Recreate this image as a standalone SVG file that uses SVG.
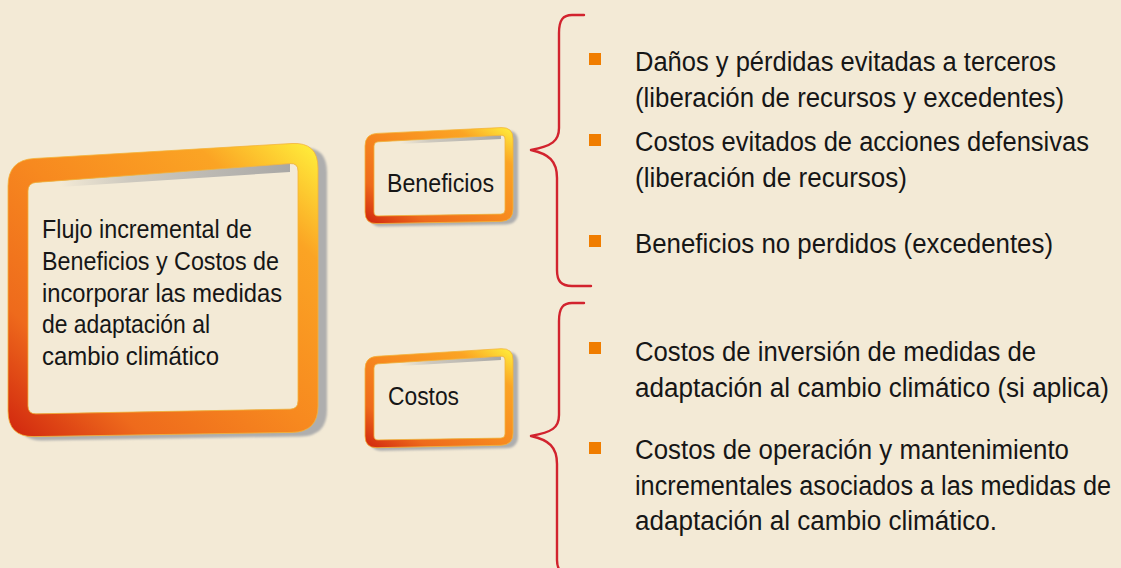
<svg xmlns="http://www.w3.org/2000/svg" width="1121" height="568" viewBox="0 0 1121 568">
  <defs>
    <linearGradient id="frameGrad" x1="0" y1="1" x2="1" y2="0">
      <stop offset="0" stop-color="#d0240e"/>
      <stop offset="0.22" stop-color="#ee6a1c"/>
      <stop offset="0.5" stop-color="#f7891f"/>
      <stop offset="0.8" stop-color="#fba424"/>
      <stop offset="1" stop-color="#fff23c"/>
    </linearGradient>
    <linearGradient id="bandGrad" x1="0" y1="0" x2="1" y2="0">
      <stop offset="0" stop-color="#a8a8a8" stop-opacity="0"/>
      <stop offset="0.3" stop-color="#a8a8a8" stop-opacity="0.5"/>
      <stop offset="1" stop-color="#a0a0a0" stop-opacity="0.9"/>
    </linearGradient>
    <filter id="blur" x="-10%" y="-10%" width="120%" height="120%">
      <feGaussianBlur stdDeviation="1.2"/>
    </filter>
  </defs>
  <style>
    .bg { fill: #f3ead6; }
    .paper { fill: #f3ead6; }
    .frame { fill: url(#frameGrad); fill-rule: evenodd; stroke: #f4b43a; stroke-width: 0.8; }
    .shadow { fill: #aeaeae; filter: url(#blur); }
    .band { fill: url(#bandGrad); }
    .txt { font-family: "Liberation Sans", Arial, sans-serif; fill: #161616; }
    .big { font-size: 25.5px; }
    .item { font-size: 27px; }
    .bullet { fill: #f07d00; }
    .brace { fill: none; stroke: #d2232e; stroke-width: 2.4; stroke-linecap: round; stroke-linejoin: round; }
  </style>

  <rect class="bg" x="0" y="0" width="1121" height="568"/>

  <!-- Main node -->
  <g id="node-main">
    <path class="shadow" transform="translate(9,4)" d="M 8,186 Q 8,160 34,158.5 L 292,143.5 Q 318,142 318,168 L 318,406 Q 318,432 292,432.4 L 34,436.6 Q 8,437 8,411 Z"/>
    <path class="paper" d="M 28,191 Q 28,183 36,182.4 L 290,163.6 Q 298,163 298,171 L 298,401 Q 298,409 290,409.15 L 36,413.85 Q 28,414 28,406 Z"/>
    <path class="band" d="M 60,180 L 290,163.6 L 290,172 L 60,187 Z"/>
    <path class="frame" d="M 8,186 Q 8,160 34,158.5 L 292,143.5 Q 318,142 318,168 L 318,406 Q 318,432 292,432.4 L 34,436.6 Q 8,437 8,411 Z M 28,191 Q 28,183 36,182.4 L 290,163.6 Q 298,163 298,171 L 298,401 Q 298,409 290,409.15 L 36,413.85 Q 28,414 28,406 Z"/>
    <text class="txt big" x="42" y="238" textLength="210" lengthAdjust="spacingAndGlyphs">Flujo incremental de</text>
    <text class="txt big" x="42" y="270" textLength="237" lengthAdjust="spacingAndGlyphs">Beneficios y Costos de</text>
    <text class="txt big" x="42" y="301.5" textLength="240" lengthAdjust="spacingAndGlyphs">incorporar las medidas</text>
    <text class="txt big" x="42" y="333" textLength="168" lengthAdjust="spacingAndGlyphs">de adaptación al</text>
    <text class="txt big" x="42" y="365" textLength="177" lengthAdjust="spacingAndGlyphs">cambio climático</text>
  </g>

  <!-- Beneficios node -->
  <g id="node-beneficios">
    <path class="shadow" transform="translate(5,3)" d="M 365,146 Q 365,134 377,133.4 L 501,127.6 Q 513,127 513,139 L 513,209 Q 513,221 501,221.4 L 377,223.6 Q 365,224 365,212 Z"/>
    <path class="paper" d="M 374,146 Q 374,142 378,141.8 L 501,135.2 Q 505,135 505,139 L 505,210 Q 505,214 501,214.1 L 378,215.9 Q 374,216 374,212 Z"/>
    <path class="band" d="M 400,140.5 L 501,135.2 L 501,139 L 400,144 Z"/>
    <path class="frame" d="M 365,146 Q 365,134 377,133.4 L 501,127.6 Q 513,127 513,139 L 513,209 Q 513,221 501,221.4 L 377,223.6 Q 365,224 365,212 Z M 374,146 Q 374,142 378,141.8 L 501,135.2 Q 505,135 505,139 L 505,210 Q 505,214 501,214.1 L 378,215.9 Q 374,216 374,212 Z"/>
    <text class="txt big" x="387" y="192" textLength="107" lengthAdjust="spacingAndGlyphs">Beneficios</text>
  </g>

  <!-- Costos node -->
  <g id="node-costos">
    <path class="shadow" transform="translate(5,3)" d="M 365,369 Q 365,357 377,356.3 L 501,348.7 Q 513,348 513,360 L 513,433 Q 513,445 501,445.3 L 377,447.7 Q 365,448 365,436 Z"/>
    <path class="paper" d="M 374,368 Q 374,364 378,363.8 L 501,356.2 Q 505,356 505,360 L 505,434 Q 505,438 501,438.1 L 378,439.9 Q 374,440 374,436 Z"/>
    <path class="band" d="M 400,362.5 L 501,356.2 L 501,360 L 400,366 Z"/>
    <path class="frame" d="M 365,369 Q 365,357 377,356.3 L 501,348.7 Q 513,348 513,360 L 513,433 Q 513,445 501,445.3 L 377,447.7 Q 365,448 365,436 Z M 374,368 Q 374,364 378,363.8 L 501,356.2 Q 505,356 505,360 L 505,434 Q 505,438 501,438.1 L 378,439.9 Q 374,440 374,436 Z"/>
    <text class="txt big" x="388" y="405" textLength="71" lengthAdjust="spacingAndGlyphs">Costos</text>
  </g>

  <!-- Connectors (braces) -->
  <g id="connectors">
    <path class="brace" d="M 584,15 L 572,15 C 563,15 559,20 559,33 L 559,128 C 559,141 552,146 531,150 C 549,154 557,161 557,178 L 557,270 C 557,281 561,286 572,286 L 591,286"/>
    <path class="brace" d="M 584,303 L 572,303 C 563,303 559,308 559,321 L 559,415 C 559,428 552,432 531,436 C 549,440 557,447 557,464 L 557,560 C 557,570 561,574 572,574 L 591,574"/>
  </g>

  <!-- Beneficios list -->
  <g id="list-beneficios">
    <rect class="bullet" x="589" y="53" width="12" height="12"/>
    <rect class="bullet" x="589" y="134" width="12" height="12"/>
    <rect class="bullet" x="589" y="235" width="12" height="12"/>
    <text class="txt item" x="635" y="70.5" textLength="421" lengthAdjust="spacingAndGlyphs">Daños y pérdidas evitadas a terceros</text>
    <text class="txt item" x="635" y="106.5" textLength="429" lengthAdjust="spacingAndGlyphs">(liberación de recursos y excedentes)</text>
    <text class="txt item" x="635" y="151" textLength="454" lengthAdjust="spacingAndGlyphs">Costos evitados de acciones defensivas</text>
    <text class="txt item" x="635" y="186.5" textLength="272" lengthAdjust="spacingAndGlyphs">(liberación de recursos)</text>
    <text class="txt item" x="635" y="252.5" textLength="418" lengthAdjust="spacingAndGlyphs">Beneficios no perdidos (excedentes)</text>
  </g>

  <!-- Costos list -->
  <g id="list-costos">
    <rect class="bullet" x="589" y="342" width="12" height="12"/>
    <rect class="bullet" x="589" y="442" width="12" height="12"/>
    <text class="txt item" x="635" y="360.5" textLength="401" lengthAdjust="spacingAndGlyphs">Costos de inversión de medidas de</text>
    <text class="txt item" x="635" y="396.5" textLength="474" lengthAdjust="spacingAndGlyphs">adaptación al cambio climático (si aplica)</text>
    <text class="txt item" x="635" y="459" textLength="434" lengthAdjust="spacingAndGlyphs">Costos de operación y mantenimiento</text>
    <text class="txt item" x="635" y="494.5" textLength="476" lengthAdjust="spacingAndGlyphs">incrementales asociados a las medidas de</text>
    <text class="txt item" x="635" y="530" textLength="362" lengthAdjust="spacingAndGlyphs">adaptación al cambio climático.</text>
  </g>
</svg>
